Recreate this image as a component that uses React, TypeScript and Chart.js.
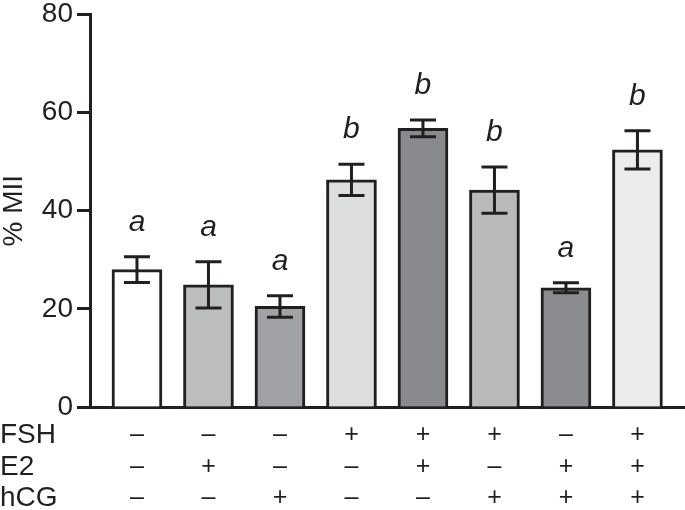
import React, { useEffect, useRef } from "react";
import { Chart, registerables } from "chart.js";

Chart.register(...registerables);

const categories = ["1", "2", "3", "4", "5", "6", "7", "8"];
const means = [28.0, 24.9, 20.5, 46.3, 56.8, 44.2, 24.3, 52.4];
const errors = [2.6, 4.7, 2.2, 3.2, 1.7, 4.7, 1.0, 3.9];
const letters = ["a", "a", "a", "b", "b", "b", "a", "b"];
const barColors = ["#ffffff", "#bcbdbf", "#a1a2a5", "#dddee0", "#898a8d", "#b9babc", "#8b8c8f", "#ebeceb"];
const rowLabels = ["FSH", "E2", "hCG"];
const fshRow = ["–", "–", "–", "+", "+", "+", "–", "+"];
const e2Row = ["–", "+", "–", "–", "+", "–", "+", "+"];
const hcgRow = ["–", "–", "+", "–", "–", "+", "+", "+"];
const yTicks = [0, 20, 40, 60, 80];

const INK = "#231f20";
const FONT = "'Liberation Sans', Arial, Helvetica, sans-serif";

const overlayPlugin = {
  id: "overlay",
  afterDatasetsDraw(chart: any) {
    const ctx = chart.ctx;
    const xs = chart.scales.x;
    const ys = chart.scales.y;
    ctx.save();
    ctx.strokeStyle = INK;
    ctx.lineWidth = 3;
    ctx.lineCap = "butt";
    means.forEach((m, i) => {
      const x = xs.getPixelForValue(i);
      const yTop = ys.getPixelForValue(m + errors[i]);
      const yBot = ys.getPixelForValue(m - errors[i]);
      const cap = 13;
      ctx.beginPath();
      ctx.moveTo(x, yTop);
      ctx.lineTo(x, yBot);
      ctx.moveTo(x - cap, yTop);
      ctx.lineTo(x + cap, yTop);
      ctx.moveTo(x - cap, yBot);
      ctx.lineTo(x + cap, yBot);
      ctx.stroke();
      ctx.fillStyle = INK;
      ctx.font = `italic 30px ${FONT}`;
      ctx.textAlign = "center";
      ctx.textBaseline = "alphabetic";
      ctx.fillText(letters[i], x, yTop - 26);
    });
    // treatment table
    const rows = [fshRow, e2Row, hcgRow];
    const base = chart.chartArea.bottom;
    const offsets = [28, 60, 91];
    ctx.fillStyle = INK;
    ctx.textBaseline = "middle";
    rows.forEach((row, r) => {
      const y = base + offsets[r];
      ctx.font = `28px ${FONT}`;
      ctx.textAlign = "left";
      ctx.fillText(rowLabels[r], 0, y);
      ctx.font = `25px ${FONT}`;
      ctx.textAlign = "center";
      row.forEach((s, i) => {
        ctx.fillText(s, xs.getPixelForValue(i), y);
      });
    });
    ctx.restore();
  },
};

export default function App() {
  const ref = useRef<HTMLCanvasElement | null>(null);
  useEffect(() => {
    if (!ref.current) return;
    const chart = new Chart(ref.current, {
      type: "bar",
      data: {
        labels: categories,
        datasets: [
          {
            data: means.map((m, i) => ({ x: i, y: m })) as any,
            backgroundColor: barColors,
            borderColor: INK,
            borderWidth: 3,
            barThickness: 50,
          },
        ],
      },
      options: {
        responsive: false,
        animation: false,
        events: [],
        layout: { padding: { top: 11, bottom: 103, left: 0, right: 0 } },
        plugins: { legend: { display: false }, tooltip: { enabled: false } },
        scales: {
          x: {
            type: "linear",
            offset: false,
            min: -0.657,
            max: 7.665,
            ticks: { display: false },
            grid: { display: false, offset: false },
            border: { display: true, width: 3, color: INK },
            afterFit: (s: any) => {
              s.height = 0;
            },
          },
          y: {
            min: 0,
            max: 80,
            afterBuildTicks: (s: any) => {
              s.ticks = yTicks.map((v) => ({ value: v }));
            },
            ticks: {
              color: INK,
              font: { family: FONT, size: 28, lineHeight: 0.75 },
              padding: 4,
            },
            grid: {
              display: true,
              drawOnChartArea: false,
              drawTicks: true,
              tickLength: 13,
              tickWidth: 3,
              tickColor: INK,
            },
            border: { display: true, width: 3, color: INK },
            title: {
              display: true,
              text: "% MII",
              color: INK,
              font: { family: FONT, size: 28, lineHeight: 1.0 },
              padding: 0,
            },
            afterFit: (s: any) => {
              s.width = 90;
            },
          },
        },
      },
      plugins: [overlayPlugin],
    });
    return () => chart.destroy();
  }, []);
  return (
    <div style={{ position: "fixed", left: 0, top: 0, width: 685, height: 510, background: "#ffffff" }}>
      <canvas ref={ref} width={685} height={510} style={{ display: "block" }} />
    </div>
  );
}
